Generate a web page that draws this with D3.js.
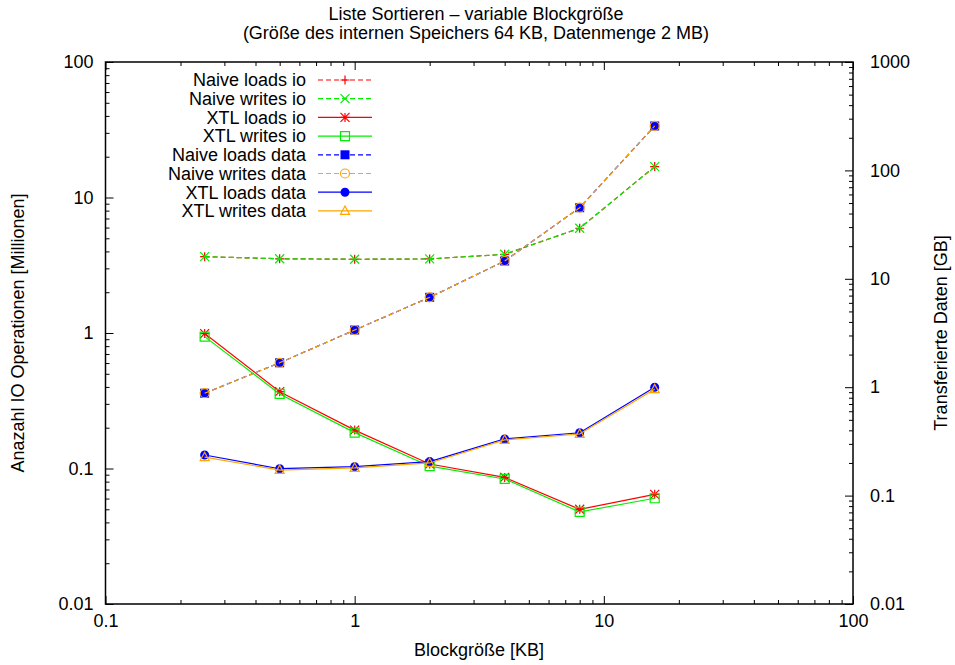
<!DOCTYPE html>
<html>
<head>
<meta charset="utf-8">
<script src="https://cdn.jsdelivr.net/npm/d3@7"></script>
<style>
  body { margin: 0; background: #fff; }
  svg text { font-family: "Liberation Sans", Arial, Helvetica, sans-serif; font-size: 18px; fill: #000; }
</style>
</head>
<body>
<svg id="chart" width="955" height="665"></svg>
<script>
// Block sizes in KB
const blockSizes = [0.25, 0.5, 1, 2, 4, 8, 16];

// IO operations (millions), left axis
const naiveLoadsIo  = [3.66, 3.53, 3.50, 3.52, 3.81, 5.93, 16.9];
const naiveWritesIo = [3.66, 3.53, 3.50, 3.52, 3.81, 5.93, 16.9];
const xtlLoadsIo    = [0.99, 0.369, 0.192, 0.108, 0.086, 0.050, 0.0645];
const xtlWritesIo   = [0.94, 0.355, 0.184, 0.104, 0.0837, 0.0478, 0.0603];

// Transferred data (GB), right axis
const naiveLoadsData  = [0.88, 1.68, 3.37, 6.75, 14.6, 45.3, 257];
const naiveWritesData = [0.88, 1.68, 3.37, 6.75, 14.6, 45.3, 257];
const xtlLoadsData    = [0.237, 0.177, 0.185, 0.206, 0.333, 0.38, 1.0];
const xtlWritesData   = [0.226, 0.172, 0.180, 0.200, 0.326, 0.37, 0.956];

// Tick labels
const xTicks  = [0.1, 1, 10, 100];
const yTicks  = [0.01, 0.1, 1, 10, 100];
const y2Ticks = [0.01, 0.1, 1, 10, 100, 1000];

const seriesNames = [
  "Naive loads io", "Naive writes io", "XTL loads io", "XTL writes io",
  "Naive loads data", "Naive writes data", "XTL loads data", "XTL writes data"
];

const svg = d3.select("#chart");
const L = 105.5, R = 853, T = 62, B = 604;

const x  = d3.scaleLog().domain([0.1, 100]).range([L, R]);
const y  = d3.scaleLog().domain([0.01, 100]).range([B, T]);
const y2 = d3.scaleLog().domain([0.01, 1000]).range([B, T]);

const series = [
  { name: seriesNames[0], values: naiveLoadsIo,    axis: y,  color: "#ff0000", dash: "5,3", marker: "plus" },
  { name: seriesNames[1], values: naiveWritesIo,   axis: y,  color: "#00ee00", dash: "5,3", marker: "cross" },
  { name: seriesNames[2], values: xtlLoadsIo,      axis: y,  color: "#ff0000", dash: null,  marker: "star" },
  { name: seriesNames[3], values: xtlWritesIo,     axis: y,  color: "#00ee00", dash: null,  marker: "square" },
  { name: seriesNames[4], values: naiveLoadsData,  axis: y2, color: "#0000ff", dash: "5,3", marker: "fsquare" },
  { name: seriesNames[5], values: naiveWritesData, axis: y2, color: "#ffa500", dash: "5,3", marker: "circle" },
  { name: seriesNames[6], values: xtlLoadsData,    axis: y2, color: "#0000ff", dash: null,  marker: "fcircle" },
  { name: seriesNames[7], values: xtlWritesData,   axis: y2, color: "#ffa500", dash: null,  marker: "triangle" }
];

// minor log ticks (2..9 within each decade)
function minorTicks(majors) {
  const out = [];
  for (let i = 0; i < majors.length - 1; i++)
    for (let k = 2; k <= 9; k++) out.push(majors[i] * k);
  return out;
}
const fmt = d => String(d);

function styleAxis(g) {
  g.select(".domain").remove();
  g.selectAll("line").attr("stroke", "#000").attr("stroke-width", 1);
  g.selectAll("text").attr("font-size", null).attr("font-family", null);
}

// bottom axis
svg.append("g").attr("transform", `translate(0,${B})`)
  .call(d3.axisBottom(x).tickValues(xTicks).tickFormat(fmt).tickSizeInner(-8).tickSizeOuter(0).tickPadding(10))
  .call(styleAxis);
svg.append("g").attr("transform", `translate(0,${B})`)
  .call(d3.axisBottom(x).tickValues(minorTicks(xTicks)).tickFormat("").tickSizeInner(-4).tickSizeOuter(0))
  .call(styleAxis);
// top axis (mirrored ticks)
svg.append("g").attr("transform", `translate(0,${T})`)
  .call(d3.axisTop(x).tickValues(xTicks).tickFormat("").tickSizeInner(-8).tickSizeOuter(0))
  .call(styleAxis);
svg.append("g").attr("transform", `translate(0,${T})`)
  .call(d3.axisTop(x).tickValues(minorTicks(xTicks)).tickFormat("").tickSizeInner(-4).tickSizeOuter(0))
  .call(styleAxis);
// left axis
svg.append("g").attr("transform", `translate(${L},0)`)
  .call(d3.axisLeft(y).tickValues(yTicks).tickFormat(fmt).tickSizeInner(-8).tickSizeOuter(0).tickPadding(12))
  .call(styleAxis);
svg.append("g").attr("transform", `translate(${L},0)`)
  .call(d3.axisLeft(y).tickValues(minorTicks(yTicks)).tickFormat("").tickSizeInner(-4).tickSizeOuter(0))
  .call(styleAxis);
// right axis
svg.append("g").attr("transform", `translate(${R},0)`)
  .call(d3.axisRight(y2).tickValues(y2Ticks).tickFormat(fmt).tickSizeInner(-8).tickSizeOuter(0).tickPadding(17))
  .call(styleAxis);
svg.append("g").attr("transform", `translate(${R},0)`)
  .call(d3.axisRight(y2).tickValues(minorTicks(y2Ticks)).tickFormat("").tickSizeInner(-4).tickSizeOuter(0))
  .call(styleAxis);

// plot border
svg.append("rect").attr("x", L).attr("y", T).attr("width", R - L).attr("height", B - T)
  .attr("fill", "none").attr("stroke", "#000").attr("stroke-width", 1.5);

// point symbols
const PR = 4.5;
function drawMarker(g, type, cx, cy, color) {
  const r = PR;
  const s = g.append("g").attr("transform", `translate(${cx},${cy})`);
  const stroke = p => s.append("path").attr("d", p).attr("fill", "none").attr("stroke", color).attr("stroke-width", 1.2);
  switch (type) {
    case "plus":  stroke(`M${-r},0H${r}M0,${-r}V${r}`); break;
    case "cross": stroke(`M${-r},${-r}L${r},${r}M${-r},${r}L${r},${-r}`); break;
    case "star":  stroke(`M${-r},0H${r}M0,${-r}V${r}M${-r},${-r}L${r},${r}M${-r},${r}L${r},${-r}`); break;
    case "square": stroke(`M${-r},${-r}H${r}V${r}H${-r}Z`); break;
    case "fsquare": s.append("rect").attr("x", -r).attr("y", -r).attr("width", 2 * r).attr("height", 2 * r).attr("fill", color); break;
    case "circle": s.append("circle").attr("r", r).attr("fill", "none").attr("stroke", color).attr("stroke-width", 1.2); break;
    case "fcircle": s.append("circle").attr("r", r).attr("fill", color); break;
    case "triangle": stroke(`M0,${-r * 1.1}L${r},${r * 0.75}H${-r}Z`); break;
  }
}

// data lines and points
const plot = svg.append("g");
series.forEach(sr => {
  const line = d3.line().x((d, i) => x(blockSizes[i])).y(d => sr.axis(d));
  plot.append("path").datum(sr.values).attr("d", line)
    .attr("fill", "none").attr("stroke", sr.color).attr("stroke-width", 1.2)
    .attr("stroke-dasharray", sr.dash);
  sr.values.forEach((v, i) => drawMarker(plot, sr.marker, x(blockSizes[i]), sr.axis(v), sr.color));
});

// legend
const legend = svg.append("g");
series.forEach((sr, i) => {
  const cy = 80 + i * 18.7;
  legend.append("text").attr("x", 306).attr("y", cy).attr("dy", "0.35em")
    .attr("text-anchor", "end").text(sr.name);
  legend.append("line").attr("x1", 318).attr("x2", 372).attr("y1", cy).attr("y2", cy)
    .attr("stroke", sr.color).attr("stroke-width", 1.2).attr("stroke-dasharray", sr.dash);
  drawMarker(legend, sr.marker, 345, cy, sr.color);
});

// titles and axis labels
svg.append("text").attr("x", 476).attr("y", 20).attr("text-anchor", "middle")
  .text("Liste Sortieren – variable Blockgröße");
svg.append("text").attr("x", 476).attr("y", 39).attr("text-anchor", "middle")
  .text("(Größe des internen Speichers 64 KB, Datenmenge 2 MB)");
svg.append("text").attr("x", 479).attr("y", 656).attr("text-anchor", "middle")
  .text("Blockgröße [KB]");
svg.append("text").attr("transform", "translate(18,333) rotate(-90)").attr("dy", "0.35em")
  .attr("text-anchor", "middle").text("Anazahl IO Operationen [Millionen]");
svg.append("text").attr("transform", "translate(941,333) rotate(-90)").attr("dy", "0.35em")
  .attr("text-anchor", "middle").text("Transferierte Daten [GB]");
</script>
</body>
</html>
